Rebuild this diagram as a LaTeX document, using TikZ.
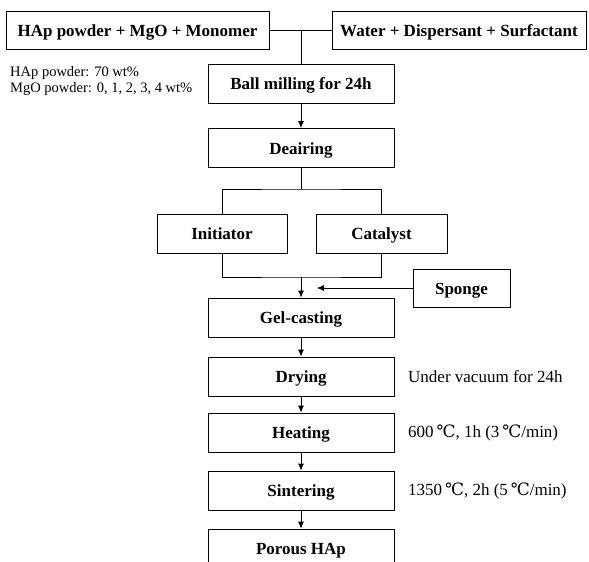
\documentclass[tikz,border=0pt]{standalone}
\usepackage{fontspec}
\setmainfont{Liberation Serif}
\newfontfamily\degfont{DejaVu Serif}
\usetikzlibrary{arrows.meta,positioning}
\newcommand{\degC}{{\degfont ℃}}
\tikzset{
  wire/.style={black,line width=0.8pt},
  flow/.style={wire,-{Latex[length=7pt,width=6pt]}},
  stepbox/.style={draw=black,line width=0.8pt,fill=white,inner sep=0pt,
                  minimum height=39pt,text height=15pt,text depth=3pt,
                  font=\fontsize{17}{20}\selectfont\bfseries},
  mainbox/.style={stepbox,minimum width=186pt},
  note/.style={inner sep=0pt,font=\fontsize{17}{20}\selectfont,anchor=west},
  smallnote/.style={inner sep=0pt,align=left,anchor=west,font=\fontsize{14.5}{16}\selectfont},
}
\begin{document}
\begin{tikzpicture}[x=1pt,y=-1pt]
  \clip (0,0) rectangle (589,562);
  \path[use as bounding box] (0,0) rectangle (589,562);

  % raw materials
  \node[stepbox,minimum width=263pt,minimum height=38pt] (powder) at (137.5,30.5) {HAp powder + MgO + Monomer};
  \node[stepbox,minimum width=254pt,minimum height=38pt] (water) at (459,30.5) {Water + Dispersant + Surfactant};
  \node[smallnote] (ratio) at (10,81) {HAp powder: 70 wt\%\\MgO powder: 0, 1, 2, 3, 4 wt\%};

  % main line
  \node[mainbox] (ball) at (301,83.5) {Ball milling for 24h};
  \node[mainbox] (deair) at (301,148) {Deairing};
  \node[stepbox,minimum width=130pt] (init) at (222,233.5) {Initiator};
  \node[stepbox,minimum width=131pt] (cata) at (381.5,233.5) {Catalyst};
  \node[stepbox,minimum width=97pt,minimum height=38pt] (sponge) at (461.5,288) {Sponge};
  \node[mainbox] (gel) at (301,317.5) {Gel-casting};
  \node[mainbox] (dry) at (301,376.5) {Drying};
  \node[mainbox] (heat) at (301,432.5) {Heating};
  \node[mainbox] (sinter) at (301,490.5) {Sintering};
  \node[mainbox] (porous) at (301,548.5) {Porous HAp};

  % conditions
  \node[note] (drynote) at (408,376.5) {Under vacuum for 24h};
  \node[note] (heatnote) at (408,432.5) {600\,\degC, 1h (3\,\degC/min)};
  \node[note] (sinternote) at (408,490.5) {1350\,\degC, 2h (5\,\degC/min)};

  % connectors
  \coordinate (mix) at (301,30.5);
  \coordinate (split) at (301,189);
  \coordinate (merge) at (301,277);
  \coordinate (spongetip) at (317,288);
  \draw[wire] (powder) -- (water);
  \draw[wire] (mix) -- (ball);
  \draw[flow] (ball) -- (deair);
  \draw[wire] (deair) -- (split);
  \draw[wire] (init.north) |- (split) -| (cata.north);
  \draw[wire] (init.south) |- (merge) -| (cata.south);
  \draw[flow] (merge) -- (gel);
  \draw[flow] (sponge) -- (spongetip);
  \draw[flow] (gel) -- (dry);
  \draw[flow] (dry) -- (heat);
  \draw[flow] (heat) -- (sinter);
  \draw[flow] (sinter) -- (porous);
\end{tikzpicture}
\end{document}
